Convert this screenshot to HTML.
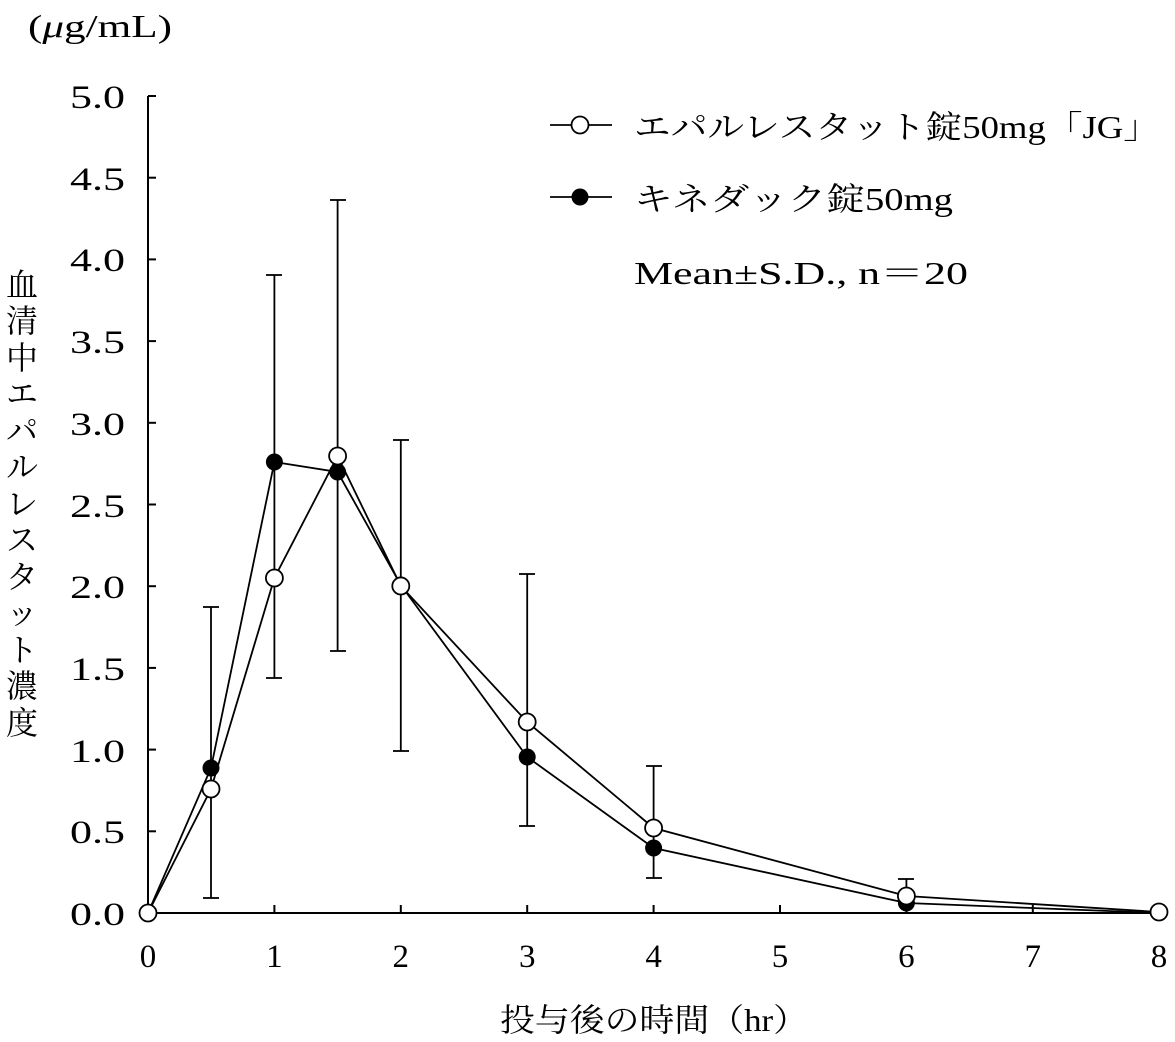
<!DOCTYPE html>
<html><head><meta charset="utf-8"><style>
html,body{margin:0;padding:0;background:#fff;}
svg{display:block;}
text{font-family:"Liberation Serif","Noto Serif CJK SC","Noto Sans CJK JP",serif;fill:#000;}
</style></head><body>
<svg width="1175" height="1042" viewBox="0 0 1175 1042" xmlns="http://www.w3.org/2000/svg">
<text x="28" y="37" font-size="32" textLength="144" lengthAdjust="spacingAndGlyphs">(<tspan font-style="italic">μ</tspan>g/mL)</text>
<g stroke="#000" stroke-width="2" fill="none">
<line x1="148" y1="96" x2="148" y2="913"/>
<line x1="148" y1="913" x2="1159" y2="913"/>
<line x1="148" y1="96" x2="156" y2="96"/>
<line x1="148" y1="177.7" x2="156" y2="177.7"/>
<line x1="148" y1="259.4" x2="156" y2="259.4"/>
<line x1="148" y1="341.1" x2="156" y2="341.1"/>
<line x1="148" y1="422.8" x2="156" y2="422.8"/>
<line x1="148" y1="504.5" x2="156" y2="504.5"/>
<line x1="148" y1="586.2" x2="156" y2="586.2"/>
<line x1="148" y1="667.9" x2="156" y2="667.9"/>
<line x1="148" y1="749.6" x2="156" y2="749.6"/>
<line x1="148" y1="831.3" x2="156" y2="831.3"/>
<line x1="274.4" y1="913" x2="274.4" y2="905"/>
<line x1="400.8" y1="913" x2="400.8" y2="905"/>
<line x1="527.2" y1="913" x2="527.2" y2="905"/>
<line x1="653.6" y1="913" x2="653.6" y2="905"/>
<line x1="780" y1="913" x2="780" y2="905"/>
<line x1="906.4" y1="913" x2="906.4" y2="905"/>
<line x1="1032.8" y1="913" x2="1032.8" y2="905"/>
<line x1="1159" y1="913" x2="1159" y2="905"/>
</g>
<g font-size="33">
<text x="70" y="108" textLength="55" lengthAdjust="spacingAndGlyphs">5.0</text>
<text x="70" y="190" textLength="55" lengthAdjust="spacingAndGlyphs">4.5</text>
<text x="70" y="271" textLength="55" lengthAdjust="spacingAndGlyphs">4.0</text>
<text x="70" y="353" textLength="55" lengthAdjust="spacingAndGlyphs">3.5</text>
<text x="70" y="435" textLength="55" lengthAdjust="spacingAndGlyphs">3.0</text>
<text x="70" y="517" textLength="55" lengthAdjust="spacingAndGlyphs">2.5</text>
<text x="70" y="598" textLength="55" lengthAdjust="spacingAndGlyphs">2.0</text>
<text x="70" y="680" textLength="55" lengthAdjust="spacingAndGlyphs">1.5</text>
<text x="70" y="762" textLength="55" lengthAdjust="spacingAndGlyphs">1.0</text>
<text x="70" y="843" textLength="55" lengthAdjust="spacingAndGlyphs">0.5</text>
<text x="70" y="925" textLength="55" lengthAdjust="spacingAndGlyphs">0.0</text>
</g>
<g font-size="33" text-anchor="middle">
<text x="148" y="967">0</text><text x="274.4" y="967">1</text><text x="400.8" y="967">2</text>
<text x="527.2" y="967">3</text><text x="653.6" y="967">4</text><text x="780" y="967">5</text>
<text x="906.4" y="967">6</text><text x="1032.8" y="967">7</text><text x="1159" y="967">8</text>
</g>
<text x="500" y="1031" font-size="32" textLength="308" lengthAdjust="spacingAndGlyphs">投与後の時間（hr）</text>
<g font-size="32" text-anchor="middle">
<text x="22" y="296">血</text><text x="22" y="332">清</text><text x="22" y="369">中</text>
<text x="22" y="405">エ</text><text x="22" y="442">パ</text><text x="22" y="478">ル</text>
<text x="22" y="515">レ</text><text x="22" y="551">ス</text><text x="22" y="588">タ</text>
<text x="22" y="624">ッ</text><text x="22" y="661">ト</text><text x="22" y="697">濃</text>
<text x="22" y="734">度</text>
</g>
<g stroke="#000" stroke-width="1.8" fill="none">
<line x1="211" y1="607" x2="211" y2="898"/><line x1="203" y1="607" x2="219" y2="607"/><line x1="203" y1="898" x2="219" y2="898"/>
<line x1="274.4" y1="275" x2="274.4" y2="678"/><line x1="266" y1="275" x2="282" y2="275"/><line x1="266" y1="678" x2="282" y2="678"/>
<line x1="337.6" y1="200" x2="337.6" y2="651"/><line x1="330" y1="200" x2="346" y2="200"/><line x1="330" y1="651" x2="346" y2="651"/>
<line x1="400.8" y1="440" x2="400.8" y2="751"/><line x1="393" y1="440" x2="409" y2="440"/><line x1="393" y1="751" x2="409" y2="751"/>
<line x1="527.2" y1="574" x2="527.2" y2="826"/><line x1="519" y1="574" x2="535" y2="574"/><line x1="519" y1="826" x2="535" y2="826"/>
<line x1="653.6" y1="766" x2="653.6" y2="878"/><line x1="646" y1="766" x2="662" y2="766"/><line x1="646" y1="878" x2="662" y2="878"/>
<line x1="906.4" y1="879" x2="906.4" y2="910"/><line x1="898" y1="879" x2="914" y2="879"/>
<polyline points="148,913 211,768 274.4,462 337.6,472 400.8,585 527.2,757 653.6,848 906.4,903 1159,913"/>
<polyline points="148,913 211,789 274.4,578 337.6,456 400.8,586 527.2,722 653.6,828 906.4,896 1159,912"/>
</g>
<g fill="#000">
<circle cx="211" cy="768" r="8.5"/><circle cx="274.4" cy="462" r="8.5"/><circle cx="337.6" cy="472" r="8.5"/>
<circle cx="400.8" cy="585" r="8.5"/><circle cx="527.2" cy="757" r="8.5"/><circle cx="653.6" cy="848" r="8.5"/>
<circle cx="906.4" cy="903" r="8.5"/>
</g>
<g fill="#fff" stroke="#000" stroke-width="1.8">
<circle cx="148" cy="913" r="8.5"/><circle cx="211" cy="789" r="8.5"/><circle cx="274.4" cy="578" r="8.5"/>
<circle cx="337.6" cy="456" r="8.5"/><circle cx="400.8" cy="586" r="8.5"/><circle cx="527.2" cy="722" r="8.5"/>
<circle cx="653.6" cy="828" r="8.5"/><circle cx="906.4" cy="896" r="8.5"/><circle cx="1159" cy="912" r="8.5"/>
</g>
<g stroke="#000" stroke-width="1.8">
<line x1="550" y1="125" x2="612" y2="125"/>
<line x1="550" y1="197" x2="612" y2="197"/>
</g>
<circle cx="580" cy="125" r="8.5" fill="#fff" stroke="#000" stroke-width="1.8"/>
<circle cx="580" cy="197" r="8.5" fill="#000"/>
<g font-size="32">
<text x="634" y="138" textLength="526" lengthAdjust="spacingAndGlyphs">エパルレスタット錠50mg「JG」</text>
<text x="634" y="210" textLength="319" lengthAdjust="spacingAndGlyphs">キネダック錠50mg</text>
<text x="634" y="284" textLength="334" lengthAdjust="spacingAndGlyphs">Mean±S.D., n＝20</text>
</g>
</svg>
</body></html>
